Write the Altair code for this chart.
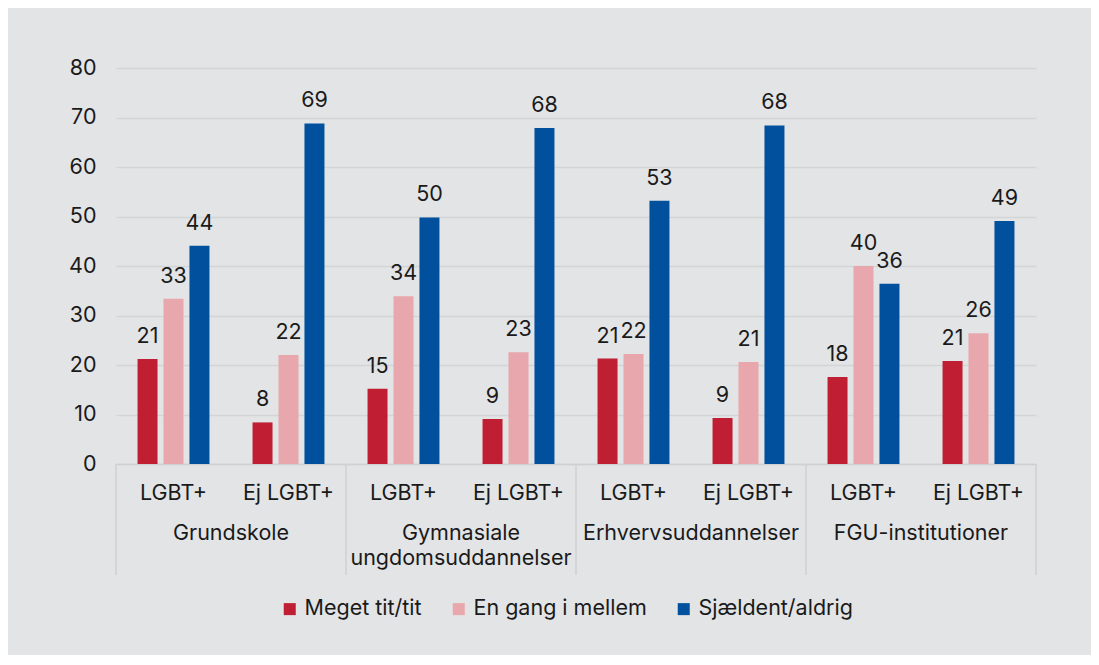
import altair as alt
import pandas as pd

groups = ["Grundskole", "Gymnasiale\nungdomsuddannelser", "Erhvervsuddannelser", "FGU-institutioner"]
subs = ["LGBT+", "Ej LGBT+"]
series = ["Meget tit/tit", "En gang i mellem", "Sjældent/aldrig"]
colors = ["#c01f33", "#e8a7ac", "#00509d"]

# values in order: (group, sub) pairs
meget = [21.2, 8.4, 15.2, 9.1, 21.3, 9.3, 17.6, 20.8]
engang = [33.4, 22.0, 33.9, 22.6, 22.2, 20.6, 40.0, 26.4]
sjaeldent = [44.1, 68.8, 49.8, 67.9, 53.2, 68.4, 36.4, 49.1]
series_values = [meget, engang, sjaeldent]

def gkey(g):
    return g.replace("\n", " ")

keys = [f"{gkey(g)}|{s}" for g in groups for s in subs]

rows = []
for si, sname in enumerate(series):
    for ki, k in enumerate(keys):
        v = series_values[si][ki]
        rows.append({"key": k, "series": sname, "value": v, "label": str(int(round(v)))})
df = pd.DataFrame(rows)

grp_df = pd.DataFrame({
    "key": [f"{gkey(g)}|{subs[0]}" for g in groups],
    "group": groups,
})
last_df = pd.DataFrame({"key": [keys[-1]]})

FONT = "Inter"
FS = 21.5
H = 396

xscale = alt.Scale(domain=keys, paddingInner=0, paddingOuter=0)

x_axis = alt.Axis(
    title=None, labelAngle=0, ticks=False, domain=True, domainColor="#cfd0d2",
    domainWidth=1.5, labelPadding=18, labelFontSize=FS, labelFont=FONT,
    labelColor="#1a1a1a", labelExpr="split(datum.value, '|')[1]", grid=False,
)
y_axis = alt.Axis(
    title=None, values=list(range(0, 81, 10)), grid=True, gridColor="#d3d4d6",
    gridWidth=1.5, domain=False, ticks=False, labelPadding=20, labelFontSize=FS,
    labelFont=FONT, labelColor="#1a1a1a",
)

base = alt.Chart(df)

bars = base.mark_bar().encode(
    x=alt.X("key:N", scale=xscale, axis=x_axis),
    xOffset=alt.XOffset("series:N", sort=series,
                        scale=alt.Scale(domain=series, paddingInner=0.23, paddingOuter=0.83)),
    y=alt.Y("value:Q", scale=alt.Scale(domain=[0, 80], nice=False), axis=y_axis),
    color=alt.Color(
        "series:N", sort=series,
        scale=alt.Scale(domain=series, range=colors),
        legend=alt.Legend(
            title=None, orient="none", direction="horizontal", legendX=163, legendY=530,
            symbolType="square", symbolSize=144, symbolStrokeWidth=0,
            labelFontSize=FS, labelFont=FONT, labelColor="#1a1a1a", labelLimit=0,
            columnPadding=26, labelOffset=4,
        ),
    ),
)

labels = base.mark_text(baseline="alphabetic", dy=-16, fontSize=FS, font=FONT, color="#1a1a1a").encode(
    x=alt.X("key:N", scale=xscale),
    xOffset=alt.XOffset("series:N", sort=series,
                        scale=alt.Scale(domain=series, paddingInner=0.23, paddingOuter=0.83)),
    y=alt.Y("value:Q"),
    text="label:N",
)

sep = alt.Chart(grp_df).mark_rule(color="#cfd0d2", strokeWidth=1.5).encode(
    x=alt.X("key:N", scale=xscale, bandPosition=0),
    y=alt.value(H),
    y2=alt.value(507),
)
sep_last = alt.Chart(last_df).mark_rule(color="#cfd0d2", strokeWidth=1.5).encode(
    x=alt.X("key:N", scale=xscale, bandPosition=1),
    y=alt.value(H),
    y2=alt.value(507),
)

grp_labels = alt.Chart(grp_df).mark_text(
    baseline="alphabetic", align="center", fontSize=FS, font=FONT, color="#1a1a1a",
    lineBreak="\n", lineHeight=25,
).encode(
    x=alt.X("key:N", scale=xscale, bandPosition=1),
    y=alt.value(472),
    text="group:N",
)

chart = alt.layer(bars, labels, sep, sep_last, grp_labels).properties(
    width=920, height=H,
    autosize="none",
    padding={"left": 108, "top": 60, "right": 55, "bottom": 191},
    background="#e3e4e6",
).configure_view(stroke=None)

chart.save("out.html", embed_options={"renderer": "svg", "actions": False})
